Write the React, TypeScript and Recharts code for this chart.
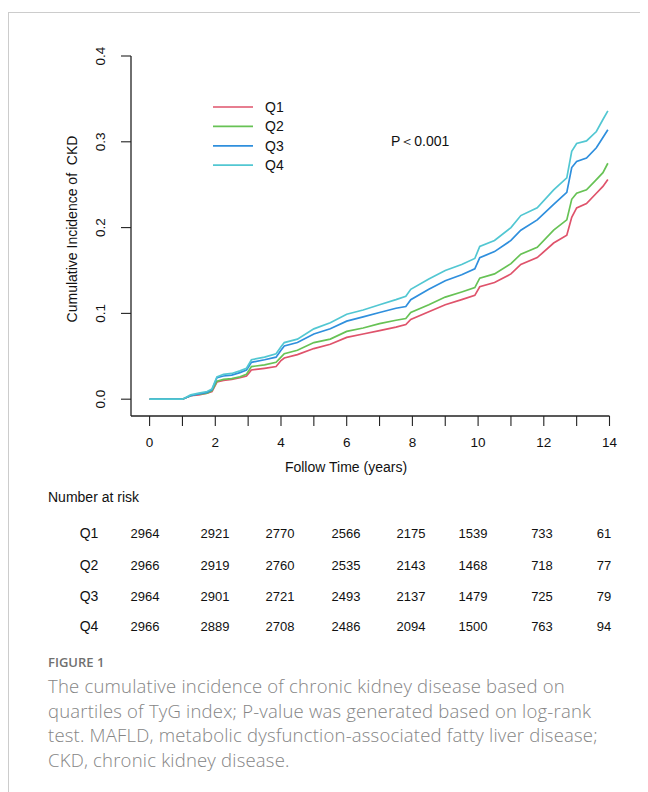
import React from "react";
import { LineChart, Line, XAxis, YAxis } from "recharts";

// follow-up time (years) where the curves were read
const years = [
  0, 1, 1.25, 1.5, 1.75, 1.9, 2.05, 2.25, 2.5, 2.75, 2.95, 3.1, 3.5, 3.85, 4.0,
  4.1, 4.5, 5.0, 5.5, 6.0, 6.5, 7.0, 7.5, 7.8, 7.95, 8.5, 9.0, 9.5, 9.9, 10.05,
  10.5, 11.0, 11.3, 11.8, 12.3, 12.7, 12.85, 13.0, 13.3, 13.6, 13.8, 13.95,
];

const q1 = [
  0, 0, 0.004, 0.005, 0.007, 0.009, 0.02, 0.022, 0.023, 0.025, 0.027, 0.034,
  0.036, 0.038, 0.045, 0.048, 0.052, 0.059, 0.064, 0.072, 0.076, 0.08, 0.084,
  0.087, 0.093, 0.102, 0.11, 0.116, 0.121, 0.131, 0.136, 0.146, 0.157, 0.165,
  0.182, 0.191, 0.212, 0.223, 0.228, 0.24, 0.248, 0.256,
];
const q2 = [
  0, 0, 0.004, 0.006, 0.007, 0.01, 0.021, 0.023, 0.024, 0.026, 0.029, 0.038,
  0.04, 0.043, 0.049, 0.053, 0.057, 0.066, 0.07, 0.079, 0.083, 0.088, 0.092,
  0.094, 0.101, 0.11, 0.119, 0.125, 0.13, 0.141, 0.146, 0.158, 0.169, 0.177,
  0.197, 0.209, 0.233, 0.24, 0.244, 0.256, 0.264, 0.275,
];
const q3 = [
  0, 0, 0.004, 0.006, 0.008, 0.011, 0.025, 0.027, 0.028, 0.031, 0.034, 0.043,
  0.046, 0.049, 0.057, 0.062, 0.066, 0.076, 0.082, 0.091, 0.096, 0.101, 0.106,
  0.108, 0.116, 0.128, 0.138, 0.145, 0.152, 0.165, 0.172, 0.185, 0.197, 0.209,
  0.227, 0.241, 0.27, 0.277, 0.281, 0.293, 0.305, 0.314,
];
const q4 = [
  0, 0, 0.005, 0.007, 0.009, 0.012, 0.026, 0.029, 0.03, 0.033, 0.036, 0.046,
  0.049, 0.053, 0.061, 0.066, 0.07, 0.082, 0.089, 0.099, 0.104, 0.11, 0.116,
  0.12, 0.128, 0.14, 0.15, 0.157, 0.164, 0.178, 0.185, 0.2, 0.214, 0.223,
  0.244, 0.258, 0.289, 0.298, 0.301, 0.312, 0.326, 0.336,
];

const groups = ["Q1", "Q2", "Q3", "Q4"];
const colors = ["#df536b", "#67c255", "#2f8fdd", "#52c7d2"];

const xTicks = [0, 1, 2, 3, 4, 5, 6, 7, 8, 9, 10, 11, 12, 13, 14];
const yTicks = [0, 0.1, 0.2, 0.3, 0.4];

// number at risk table
const riskQ1 = [2964, 2921, 2770, 2566, 2175, 1539, 733, 61];
const riskQ2 = [2966, 2919, 2760, 2535, 2143, 1468, 718, 77];
const riskQ3 = [2964, 2901, 2721, 2493, 2137, 1479, 725, 79];
const riskQ4 = [2966, 2889, 2708, 2486, 2094, 1500, 763, 94];
const riskRows = [riskQ1, riskQ2, riskQ3, riskQ4];

const captionLines = [
  "The cumulative incidence of chronic kidney disease based on",
  "quartiles of TyG index; P-value was generated based on log-rank",
  "test. MAFLD, metabolic dysfunction-associated fatty liver disease;",
  "CKD, chronic kidney disease.",
];

const data = years.map((t, i) => ({
  t,
  Q1: q1[i],
  Q2: q2[i],
  Q3: q3[i],
  Q4: q4[i],
}));

const FONT = "'Liberation Sans', Arial, sans-serif";

// page coordinates (chart svg sits at page origin)
const riskCols = [145, 215, 280, 346, 411, 473, 542, 604];
const riskRowY = [538, 570, 601, 631];

function XTick(props: any) {
  const { x, payload } = props;
  if (payload.value % 2 !== 0) return null;
  return (
    <text x={x} y={447} textAnchor="middle" fontSize={13.5} fill="#111" fontFamily={FONT}>
      {payload.value}
    </text>
  );
}

function YTick(props: any) {
  const { y, payload } = props;
  return (
    <text
      x={105}
      y={y}
      transform={`rotate(-90, 105, ${y})`}
      textAnchor="middle"
      fontSize={13.5}
      fill="#111"
      fontFamily={FONT}
    >
      {payload.value.toFixed(1)}
    </text>
  );
}

export default function App() {
  return (
    <div style={{ position: "relative", width: 640, height: 784 }}>
      <div
        style={{
          position: "absolute",
          left: 0,
          top: 4,
          width: 660,
          height: 800,
          borderTop: "1px solid #cccccc",
          borderLeft: "1px solid #cccccc",
        }}
      />
      <div style={{ position: "absolute", left: -8, top: -8 }}>
        <LineChart
          width={648}
          height={480}
          data={data}
          margin={{ top: 56, right: 38.5, bottom: 0, left: 0 }}
        >
          <XAxis
            dataKey="t"
            type="number"
            domain={[-0.566, 14]}
            ticks={xTicks}
            interval={0}
            allowDataOverflow
            height={64}
            tickSize={10}
            stroke="#222"
            axisLine={{ stroke: "#222", strokeWidth: 1.3 }}
            tickLine={{ stroke: "#222", strokeWidth: 1.1 }}
            tick={<XTick />}
            label={{
              value: "Follow Time (years)",
              position: "insideBottom",
              content: () => (
                <text x={346} y={472} textAnchor="middle" fontSize={14} fill="#111" fontFamily={FONT}>
                  Follow Time (years)
                </text>
              ),
            }}
          />
          <YAxis
            type="number"
            domain={[-0.0196, 0.4]}
            ticks={yTicks}
            interval={0}
            allowDataOverflow
            width={131}
            tickSize={10}
            stroke="#222"
            axisLine={{ stroke: "#222", strokeWidth: 1.3 }}
            tickLine={{ stroke: "#222", strokeWidth: 1.1 }}
            tick={<YTick />}
            label={{
              value: "Cumulative Incidence of  CKD",
              content: () => (
                <text
                  x={77}
                  y={229}
                  transform="rotate(-90, 77, 229)"
                  textAnchor="middle"
                  fontSize={14}
                  fill="#111"
                  fontFamily={FONT}
                  style={{ whiteSpace: "pre" }}
                >
                  Cumulative Incidence of  CKD
                </text>
              ),
            }}
          />
          {groups.map((g, i) => (
            <Line
              key={g}
              dataKey={g}
              type="linear"
              stroke={colors[i]}
              strokeWidth={1.7}
              dot={false}
              activeDot={false}
              isAnimationActive={false}
            />
          ))}
        </LineChart>
      </div>

      <svg
        width={648}
        height={792}
        style={{ position: "absolute", left: -8, top: -8, pointerEvents: "none" }}
      >
        {groups.map((g, i) => (
          <g key={g}>
            <line
              x1={213}
              x2={253}
              y1={107 + i * 19.4}
              y2={107 + i * 19.4}
              stroke={colors[i]}
              strokeWidth={1.7}
            />
            <text x={265} y={112 + i * 19.4} fontSize={14} fill="#111" fontFamily={FONT}>
              {g}
            </text>
          </g>
        ))}
        <text x={391} y={146} fontSize={14} fill="#111" fontFamily={FONT}>
          P＜0.001
        </text>

        <text x={48} y={502} fontSize={14} fill="#111" fontFamily={FONT}>
          Number at risk
        </text>
        {riskRows.map((row, r) => (
          <g key={r}>
            <text x={89} y={riskRowY[r]} textAnchor="middle" fontSize={14} fill="#111" fontFamily={FONT}>
              {groups[r]}
            </text>
            {row.map((n, c) => (
              <text
                key={c}
                x={riskCols[c]}
                y={riskRowY[r]}
                textAnchor="middle"
                fontSize={13}
                fill="#111"
                fontFamily={FONT}
              >
                {n}
              </text>
            ))}
          </g>
        ))}
      </svg>

      <div
        style={{
          position: "absolute",
          left: 40,
          top: 645,
          fontFamily: "'Open Sans', sans-serif",
          color: "#858585",
        }}
      >
        <div style={{ fontSize: 13, fontWeight: 600, color: "#707070", lineHeight: "18px" }}>
          FIGURE 1
        </div>
        <div
          style={{
            fontSize: 18.5,
            fontWeight: 300,
            lineHeight: "24.5px",
            marginTop: 3,
            letterSpacing: 0.2,
            whiteSpace: "nowrap",
          }}
        >
          {captionLines.map((l, i) => (
            <div key={i}>{l}</div>
          ))}
        </div>
      </div>
    </div>
  );
}
